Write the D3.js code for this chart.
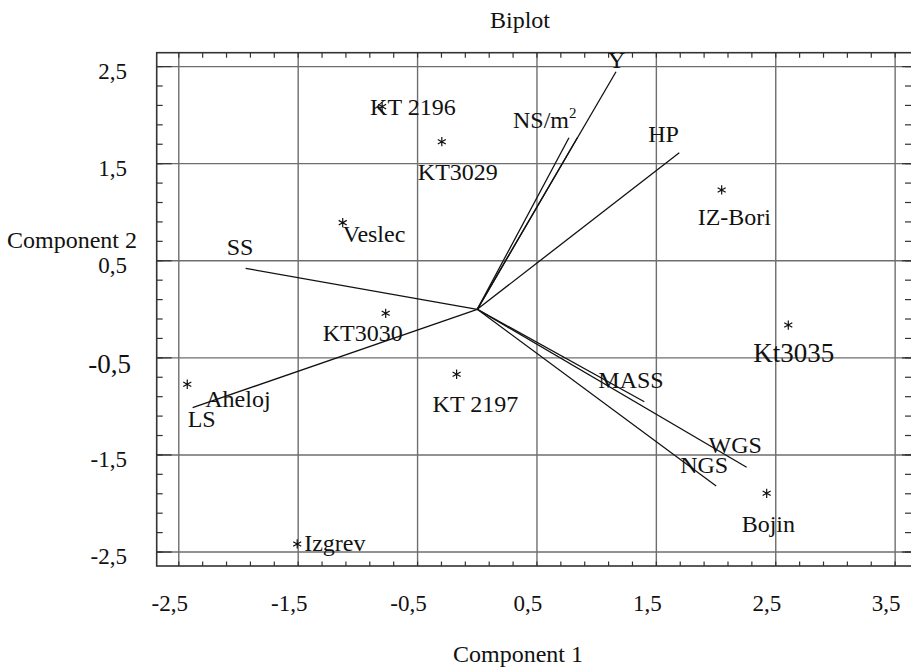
<!DOCTYPE html>
<html lang="en">
<head>
    <meta charset="UTF-8">
    <title>Biplot</title>
    <script src="https://d3js.org/d3.v7.min.js"></script>
    <style>
        body { margin: 0; background: #fff; }
        svg text { font-family: "Liberation Serif", "Times New Roman", serif; fill: #111; }
    </style>
</head>
<body>
    <div id="chart"></div>

    <script>
        // Samples (component scores)
        const sampleNames = ["KT 2196", "KT3029", "Veslec", "IZ-Bori", "KT3030", "Kt3035", "Aheloj", "KT 2197", "Bojin", "Izgrev"];
        const sampleC1 = [-0.797, -0.297, -1.127, 2.047, -0.767, 2.605, -2.429, -0.173, 2.424, -1.508];
        const sampleC2 = [2.088, 1.726, 0.892, 1.229, -0.041, -0.162, -0.772, -0.669, -1.895, -2.417];

        // Variables (loading vectors), the second NS/m2 line has no label of its own
        const varNames = ["Y", "NS/m", "", "HP", "SS", "LS", "MASS", "WGS", "NGS"];
        const varC1 = [1.162, 0.768, 0.838, 1.692, -1.940, -2.384, 1.399, 2.256, 2.001];
        const varC2 = [2.447, 1.767, 1.767, 1.613, 0.422, -1.013, -0.952, -1.627, -1.820];

        // Axis ticks
        const xTicks = [-2.5, -1.5, -0.5, 0.5, 1.5, 2.5, 3.5];
        const xTickLabels = ["-2,5", "-1,5", "-0,5", "0,5", "1,5", "2,5", "3,5"];
        const yTicks = [2.5, 1.5, 0.5, -0.5, -1.5, -2.5];
        const yTickLabels = ["2,5", "1,5", "0,5", "-0,5", "-1,5", "-2,5"];

        // label placement (pixel nudges from the mark)
        const sampleLabelPos = {
            "KT 2196": [-12, 8], "KT3029": [-24, 38], "Veslec": [0, 19], "IZ-Bori": [-24, 35],
            "KT3030": [-63, 28], "Kt3035": [-35, 37], "Aheloj": [18, 23], "KT 2197": [-24, 38],
            "Bojin": [-25, 39], "Izgrev": [7, 7]
        };
        const varLabelPos = {
            "Y": [-8, -4], "NS/m": [-56, -10], "HP": [-31, -11], "SS": [-19, -13], "LS": [-5, 19],
            "MASS": [-46, -14], "WGS": [-38, -14], "NGS": [-36, -13]
        };

        const W = 911, H = 668;
        const pLeft = 156.7, pRight = 912, pTop = 52.7, pBottom = 566;

        const svg = d3.select("#chart").append("svg")
            .attr("width", W).attr("height", H);

        const x = d3.scaleLinear().domain([-2.685, 3.637]).range([pLeft, 911.5]);
        const y = d3.scaleLinear().domain([-2.644, 2.643]).range([pBottom, pTop]);

        // gridlines
        const grid = svg.append("g").attr("stroke", "#6e6e6e").attr("stroke-width", 1.4);
        grid.selectAll("line.gx").data(xTicks).enter().append("line")
            .attr("x1", d => x(d)).attr("x2", d => x(d))
            .attr("y1", pTop).attr("y2", pBottom);
        grid.selectAll("line.gy").data(yTicks).enter().append("line")
            .attr("x1", pLeft).attr("x2", pRight)
            .attr("y1", d => y(d)).attr("y2", d => y(d));

        // minor ticks on all four sides
        const xMinor = d3.range(-2.5, 3.6, 0.2);
        const yMinor = d3.range(-2.5, 2.6, 0.2);
        const ticks = svg.append("g").attr("stroke", "#333").attr("stroke-width", 1.2);
        ticks.selectAll("line.b").data(xMinor).enter().append("line")
            .attr("x1", d => x(d)).attr("x2", d => x(d)).attr("y1", pBottom).attr("y2", pBottom - 4.5);
        ticks.selectAll("line.t").data(xMinor).enter().append("line")
            .attr("x1", d => x(d)).attr("x2", d => x(d)).attr("y1", pTop).attr("y2", pTop + 5);
        ticks.selectAll("line.l").data(yMinor).enter().append("line")
            .attr("x1", pLeft).attr("x2", pLeft + 6).attr("y1", d => y(d)).attr("y2", d => y(d));
        ticks.selectAll("line.r").data(yMinor).enter().append("line")
            .attr("x1", pRight - 7).attr("x2", pRight).attr("y1", d => y(d)).attr("y2", d => y(d));
        // major ticks drawn a bit longer
        ticks.selectAll("line.lm").data(yTicks).enter().append("line")
            .attr("x1", pLeft).attr("x2", pLeft + 15).attr("y1", d => y(d)).attr("y2", d => y(d));
        ticks.selectAll("line.rm").data(yTicks).enter().append("line")
            .attr("x1", pRight - 10).attr("x2", pRight).attr("y1", d => y(d)).attr("y2", d => y(d));

        // frame
        svg.append("rect")
            .attr("x", pLeft).attr("y", pTop)
            .attr("width", pRight - pLeft).attr("height", pBottom - pTop)
            .attr("fill", "none").attr("stroke", "#333").attr("stroke-width", 1.6);

        // tick labels (sit a little left of their gridlines, as in the original)
        svg.append("g").selectAll("text").data(xTicks).enter().append("text")
            .attr("x", d => x(d) - 9).attr("y", 611)
            .attr("text-anchor", "middle").style("font-size", "23px")
            .text((d, i) => xTickLabels[i]);

        svg.append("g").selectAll("text").data(yTicks).enter().append("text")
            .attr("x", d => d === -0.5 ? 131 : 127)
            .attr("y", d => y(d) + (d === -0.5 ? 15.5 : 12))
            .attr("text-anchor", "end")
            .style("font-size", d => d === -0.5 ? "27px" : "23px")
            .text((d, i) => yTickLabels[i]);

        // titles
        svg.append("text").attr("x", 520).attr("y", 28).attr("text-anchor", "middle")
            .style("font-size", "24px").text("Biplot");
        svg.append("text").attr("x", 518).attr("y", 662).attr("text-anchor", "middle")
            .style("font-size", "24px").text("Component 1");
        svg.append("text").attr("x", 72).attr("y", 248).attr("text-anchor", "middle")
            .style("font-size", "24px").text("Component 2");

        // vectors from the origin
        const vecs = varNames.map((n, i) => ({ name: n, c1: varC1[i], c2: varC2[i] }));
        svg.append("g").selectAll("line").data(vecs).enter().append("line")
            .attr("x1", x(0)).attr("y1", y(0))
            .attr("x2", d => x(d.c1)).attr("y2", d => y(d.c2))
            .attr("stroke", "#111").attr("stroke-width", 1.3);

        const vlab = svg.append("g").selectAll("text").data(vecs.filter(d => d.name !== "")).enter().append("text")
            .attr("x", d => x(d.c1) + varLabelPos[d.name][0])
            .attr("y", d => y(d.c2) + varLabelPos[d.name][1])
            .style("font-size", "24px")
            .text(d => d.name);
        vlab.filter(d => d.name === "NS/m").append("tspan")
            .attr("dy", -10).style("font-size", "15px").text("2");

        // sample points
        const pts = sampleNames.map((n, i) => ({ name: n, c1: sampleC1[i], c2: sampleC2[i] }));
        svg.append("g").selectAll("path").data(pts).enter().append("path")
            .attr("transform", d => `translate(${x(d.c1)},${y(d.c2)})`)
            .attr("d", d3.symbol().type(d3.symbolAsterisk).size(60))
            .attr("fill", "none").attr("stroke", "#111").attr("stroke-width", 1.2);

        svg.append("g").selectAll("text").data(pts).enter().append("text")
            .attr("x", d => x(d.c1) + sampleLabelPos[d.name][0])
            .attr("y", d => y(d.c2) + sampleLabelPos[d.name][1])
            .style("font-size", d => d.name === "Kt3035" ? "27px" : "24px")
            .text(d => d.name);
    </script>
</body>
</html>
